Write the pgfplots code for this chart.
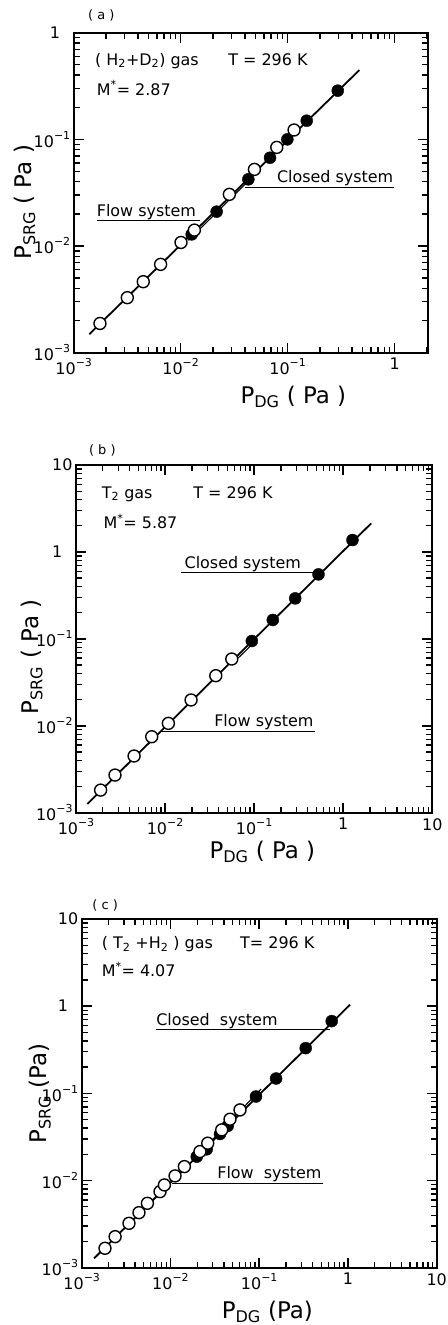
\documentclass[border=0pt]{standalone}
\usepackage{fontspec}
\setmainfont{DejaVu Sans}
\usepackage{pgfplots}
\pgfplotsset{compat=1.18}
\newcommand{\ex}[1]{10\raisebox{0.5em}{\fontsize{11}{11}\selectfont #1}}
\pgfplotsset{
  mypanelstyle/.style={
    scale only axis, clip=false,
    xmin=1e-3, ymin=1e-3,
    axis line style={line width=2pt},
    tick style={black, line width=1.5pt},
    minor tick style={black, line width=1.3pt},
    major tick length=10bp, minor tick length=6bp,
    tick align=inside, tick pos=both,
    xtick={1e-3,1e-2,1e-1,1,10},
    ytick={1e-3,1e-2,1e-1,1,10},
    xticklabels={\ex{−3},\ex{−2},\ex{−1},1,10},
    yticklabels={\ex{−3},\ex{−2},\ex{−1},1\hphantom{0},10},
    minor xtick={2e-3,3e-3,4e-3,5e-3,6e-3,7e-3,8e-3,9e-3,2e-2,3e-2,4e-2,5e-2,6e-2,7e-2,8e-2,9e-2,0.2,0.3,0.4,0.5,0.6,0.7,0.8,0.9,2,3,4,5,6,7,8,9},
    minor ytick={2e-3,3e-3,4e-3,5e-3,6e-3,7e-3,8e-3,9e-3,2e-2,3e-2,4e-2,5e-2,6e-2,7e-2,8e-2,9e-2,0.2,0.3,0.4,0.5,0.6,0.7,0.8,0.9,2,3,4,5,6,7,8,9},
    ticklabel style={font=\fontsize{16}{16}\selectfont},
    xticklabel style={yshift=-2bp},
    label style={font=\fontsize{23}{23}\selectfont},
  },
  myfit/.style={black, line width=1.8pt, no marks},
  myfitb/.style={black, line width=1.1pt, no marks},
  myopen/.style={only marks, mark=*, mark size=6bp, mark options={fill=white, draw=black, line width=1.4pt}},
  myfull/.style={only marks, mark=*, mark size=6bp, mark options={fill=black, draw=black}},
  mysys/.style={black, line width=1.0pt, no marks},
}
\tikzset{
  myann/.style={font=\fontsize{16}{18}\selectfont, inner sep=0pt},
  myplab/.style={font=\fontsize{13}{14}\selectfont, inner sep=0pt},
}
\begin{document}
\begin{tikzpicture}
\path[use as bounding box] (0,0) rectangle (448bp,1325bp);

% ---------------- (a) ----------------
\begin{loglogaxis}[mypanelstyle, at={(73.7bp,972.3bp)}, anchor=south west,
  width=354.3bp, height=320bp, xmax=2.05, ymax=1,
  xlabel={P\textsubscript{DG} ( Pa )}, ylabel={P\textsubscript{SRG} ( Pa )},
  xlabel style={at={(axis description cs:0.62,-0.1375)}, anchor=center},
  ylabel style={at={(axis description cs:-0.138,0.47)}, anchor=center}]
\addplot[myfit] coordinates {(1.40e-3,1.49e-3) (0.469,0.447)};
\addplot[myfitb] coordinates {(0.0118,0.0113) (0.047,0.0445)};
\addplot[mysys] coordinates {(1.64e-3,0.0173) (0.01517,0.0173)};
\addplot[mysys] coordinates {(0.0399,0.0355) (0.995,0.0355)};
\addplot[myfull] coordinates {(0.01268,0.01286) (0.02168,0.021) (0.0429,0.0422) (0.0684,0.0673) (0.0993,0.1) (0.1507,0.1496) (0.2938,0.286)};
\addplot[myopen] coordinates {(1.76e-3,1.88e-3) (3.17e-3,3.28e-3) (4.47e-3,4.63e-3) (6.49e-3,6.73e-3) (0.01007,0.0108) (0.01343,0.0141) (0.0285,0.0305) (0.0489,0.0523) (0.0791,0.0841) (0.1148,0.1224)};
\node[myann, anchor=base west] at (axis cs:1.64e-3,0.0188) {Flow system};
\node[myann, anchor=base east] at (axis cs:0.975,0.0392) {Closed system};
\node[myann, anchor=base west] at (axis description cs:0.06,0.899) {( H\textsubscript{2}+D\textsubscript{2}) gas};
\node[myann, anchor=base west] at (axis description cs:0.436,0.899) {T = 296 K};
\node[myann, anchor=base west] at (axis description cs:0.065,0.805) {M\textsuperscript{*}= 2.87};
\node[myplab] at (axis description cs:0.078,1.055) {( a )};
\end{loglogaxis}

% ---------------- (b) ----------------
\begin{loglogaxis}[mypanelstyle, at={(76bp,512.3bp)}, anchor=south west,
  width=356.3bp, height=347.7bp, xmax=10, ymax=10,
  xlabel={P\textsubscript{DG} ( Pa )}, ylabel={P\textsubscript{SRG} ( Pa )},
  xlabel style={at={(axis description cs:0.523,-0.112)}, anchor=center},
  ylabel style={at={(axis description cs:-0.124,0.448)}, anchor=center}]
\addplot[myfit] coordinates {(1.34e-3,1.26e-3) (2.06,2.13)};
\addplot[myfitb] coordinates {(0.066,0.0600) (0.098,0.0895)};
\addplot[mysys] coordinates {(0.0151,0.577) (0.465,0.577)};
\addplot[mysys] coordinates {(8.8e-3,8.55e-3) (0.484,8.55e-3)};
\addplot[myfull] coordinates {(0.0942,0.0944) (0.162,0.165) (0.289,0.292) (0.528,0.552) (1.27,1.37)};
\addplot[myopen] coordinates {(1.89e-3,1.82e-3) (2.74e-3,2.71e-3) (4.49e-3,4.49e-3) (7.08e-3,7.48e-3) (0.01089,0.01066) (0.01959,0.0198) (0.0371,0.0377) (0.0561,0.0586)};
\node[myann, anchor=base west] at (axis cs:0.0165,0.647) {Closed system};
\node[myann, anchor=base east] at (axis cs:0.465,9.75e-3) {Flow system};
\node[myann, anchor=base west] at (axis description cs:0.072,0.904) {T\textsubscript{2} gas};
\node[myann, anchor=base west] at (axis description cs:0.329,0.904) {T = 296 K};
\node[myann, anchor=base west] at (axis description cs:0.077,0.818) {M\textsuperscript{*}= 5.87};
\node[myplab] at (axis description cs:0.074,1.043) {( b )};
\end{loglogaxis}

% ---------------- (c) ----------------
\begin{loglogaxis}[mypanelstyle, at={(81.7bp,57.3bp)}, anchor=south west,
  width=355bp, height=348.7bp, xmax=10, ymax=10,
  xlabel={P\textsubscript{DG} (Pa)}, ylabel={P\textsubscript{SRG} (Pa)},
  xlabel style={at={(axis description cs:0.523,-0.126)}, anchor=center},
  ylabel style={at={(axis description cs:-0.117,0.5)}, anchor=center}]
\addplot[myfit] coordinates {(1.38e-3,1.28e-3) (1.056,1.04)};
\addplot[myfitb] coordinates {(0.018,0.0172) (0.105,0.112)};
\addplot[mysys] coordinates {(6.82e-3,0.546) (0.628,0.546)};
\addplot[mysys] coordinates {(0.0105,9.29e-3) (0.52,9.29e-3)};
\addplot[myfull] coordinates {(0.0198,0.0188) (0.0256,0.0228) (0.0362,0.0342) (0.0442,0.0423) (0.092,0.092) (0.155,0.148) (0.334,0.330) (0.656,0.674)};
\addplot[myopen] coordinates {(1.83e-3,1.67e-3) (2.38e-3,2.27e-3) (3.41e-3,3.23e-3) (4.42e-3,4.28e-3) (5.5e-3,5.48e-3) (7.63e-3,7.46e-3) (8.55e-3,8.9e-3) (0.01127,0.0113) (0.01436,0.01445) (0.0215,0.0215) (0.0263,0.0268) (0.0378,0.0381) (0.0469,0.0505) (0.0608,0.0646)};
\node[myann, anchor=base west] at (axis cs:6.89e-3,0.596) {Closed\ \ system};
\node[myann, anchor=base east] at (axis cs:0.506,0.01042) {Flow\ \ system};
\node[myann, anchor=base west] at (axis description cs:0.056,0.914) {( T\textsubscript{2} +H\textsubscript{2} ) gas};
\node[myann, anchor=base west] at (axis description cs:0.446,0.914) {T= 296 K};
\node[myann, anchor=base west] at (axis description cs:0.056,0.835) {M\textsuperscript{*}= 4.07};
\node[myplab] at (axis description cs:0.066,1.04) {( c )};
\end{loglogaxis}
\end{tikzpicture}
\end{document}
